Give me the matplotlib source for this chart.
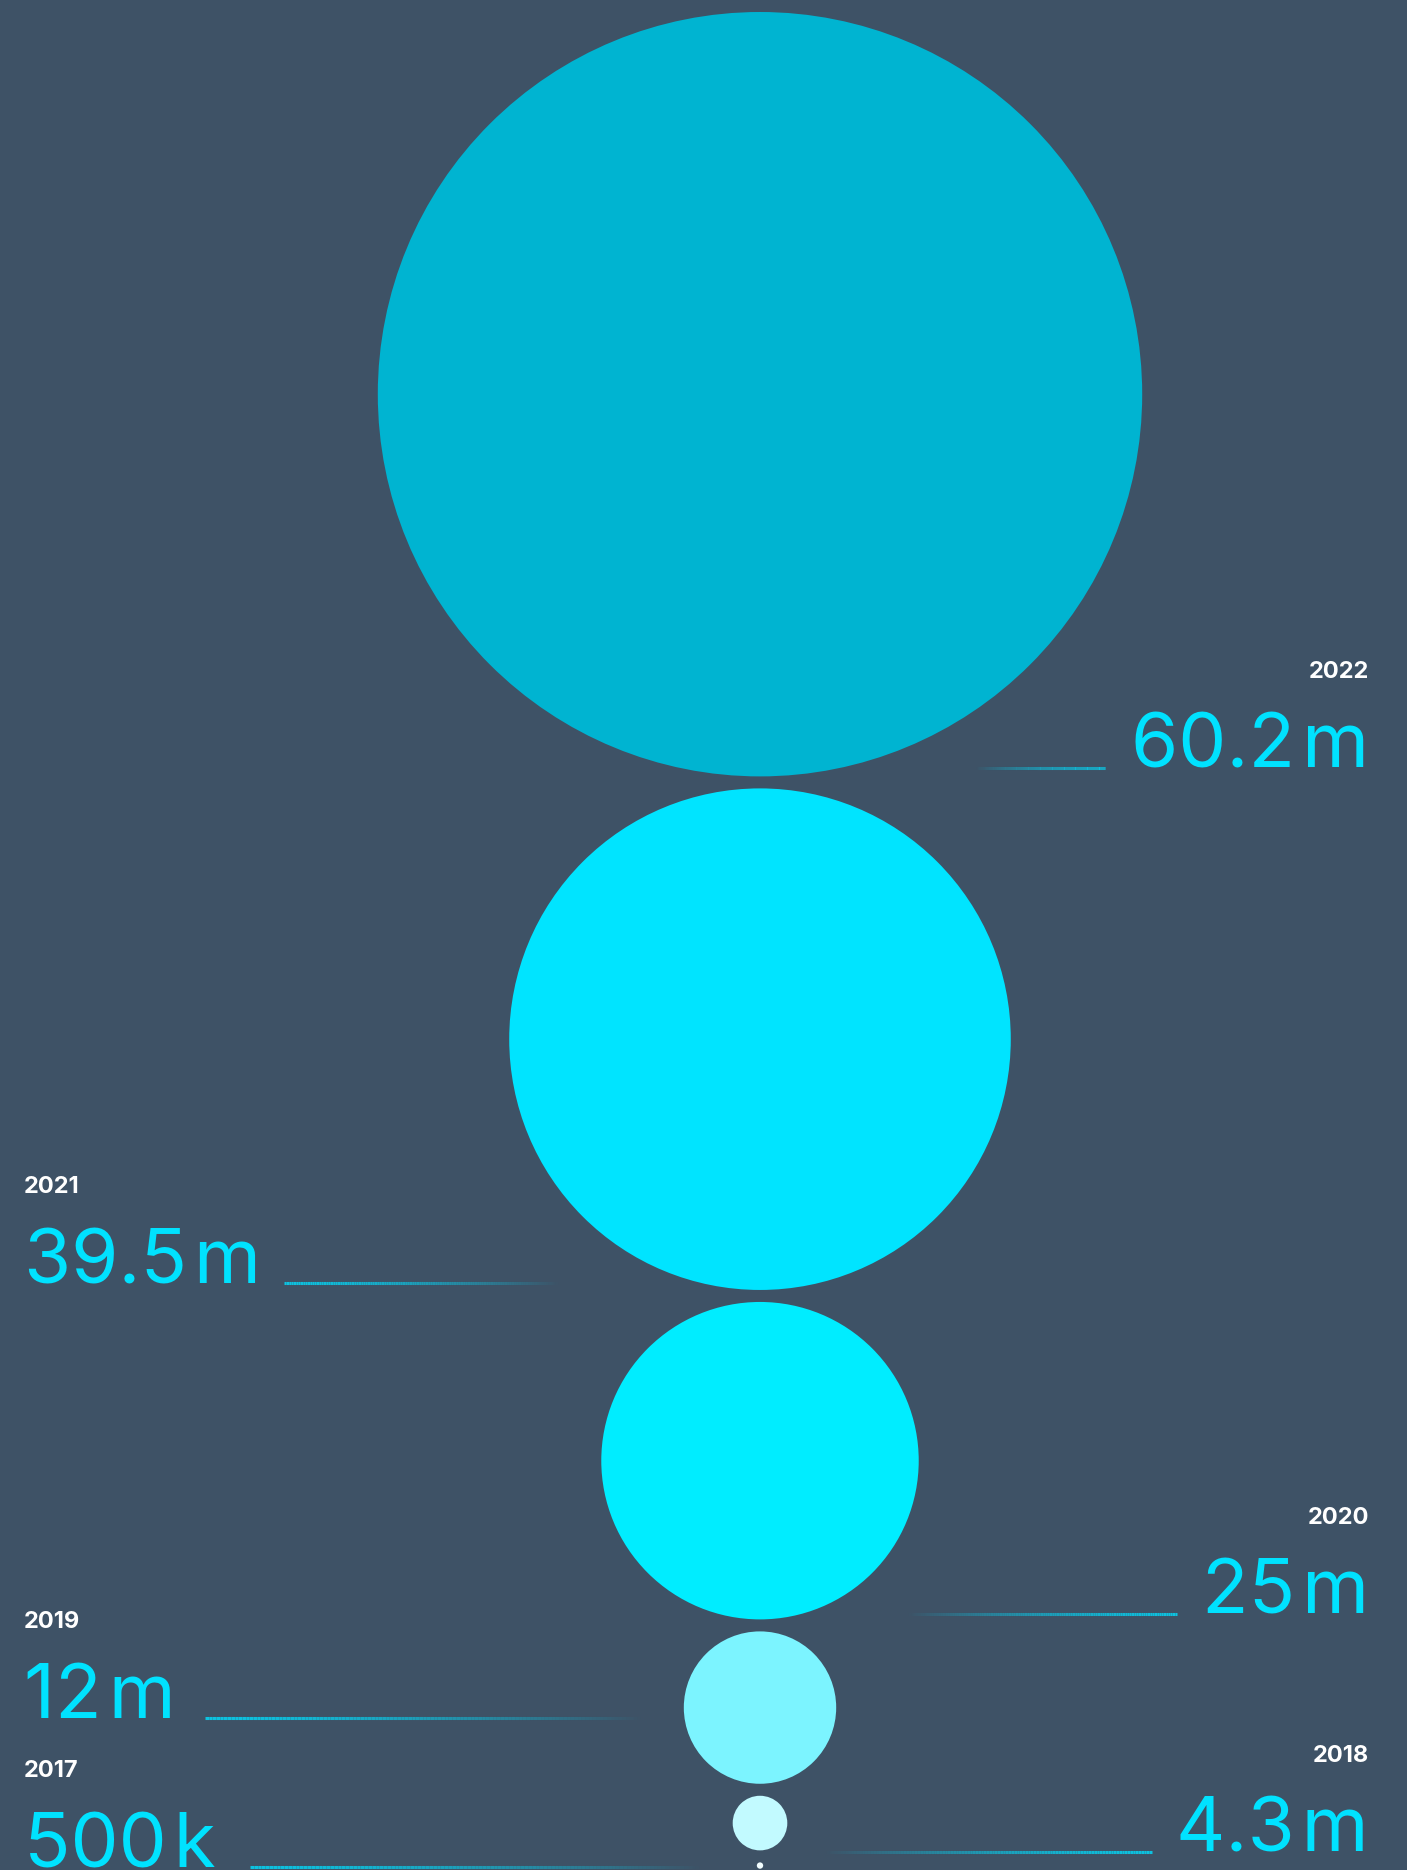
import numpy as np
import matplotlib.pyplot as plt
from matplotlib.patches import Circle
from matplotlib.collections import LineCollection

# data, largest first (top of the stack)
years = ["2022", "2021", "2020", "2019", "2018", "2017"]
values = [60.2, 39.5, 25.0, 12.0, 4.3, 0.5]
labels = ["60.2\u200am", "39.5\u200am", "25\u200am", "12\u200am", "4.3\u200am", "500\u200ak"]
colors = ["#00B4D1", "#00E4FF", "#00EDFF", "#7CF4FF", "#C2FAFF", "#F2FEFF"]

# layout (pixel units)
sides = ["right", "left", "right", "left", "right", "left"]
baselines = [768, 1283, 1614, 1718, 1852, 1867]
line_spans = [(975, 1105), (284, 560), (906, 1177), (205, 644), (823, 1152), (250, 703)]

W, H = 1407, 1870
BG = "#3E5266"
CYAN = "#00E2FF"
radius_per_unit = 382.2 / 60.2
gap = 12
top = 12
cx = 760

plt.rcParams['font.family'] = ['Inter', 'DejaVu Sans']

fig = plt.figure(figsize=(W / 100, H / 100), dpi=100, facecolor=BG)
ax = fig.add_axes([0, 0, 1, 1])
ax.set_facecolor(BG)
ax.set_xlim(0, W)
ax.set_ylim(H, 0)
ax.axis('off')


def fade_line(ax, x0, x1, y, solid_left):
    xs = np.linspace(x0, x1, 120)
    segs = [[(xs[i], y), (xs[i + 1], y)] for i in range(len(xs) - 1)]
    t = np.linspace(0, 1, len(segs))
    a = 1 - t ** 1.5
    if not solid_left:
        a = a[::-1]
    cols = [(0.05, 0.76, 0.88, v) for v in a]
    ax.add_collection(LineCollection(segs, colors=cols, linewidths=2.2, capstyle='butt'))


y = top
for yr, v, lab, col, side, base, span in zip(years, values, labels, colors,
                                              sides, baselines, line_spans):
    r = v * radius_per_unit
    cy = y + r
    ax.add_patch(Circle((cx, cy), r, facecolor=col, edgecolor='none'))
    y = cy + r + gap

    if side == "right":
        tx, ha = 1369, 'right'
        fade_line(ax, span[0], span[1], base, solid_left=False)
    else:
        tx, ha = 24, 'left'
        fade_line(ax, span[0], span[1], base, solid_left=True)
    ax.text(tx, base, lab, ha=ha, va='baseline', color=CYAN, fontsize=55)
    ax.text(tx, base - 90, yr, ha=ha, va='baseline', color='white',
            fontsize=17, fontweight='bold')

fig.savefig("out.png", dpi=100, facecolor=BG)
